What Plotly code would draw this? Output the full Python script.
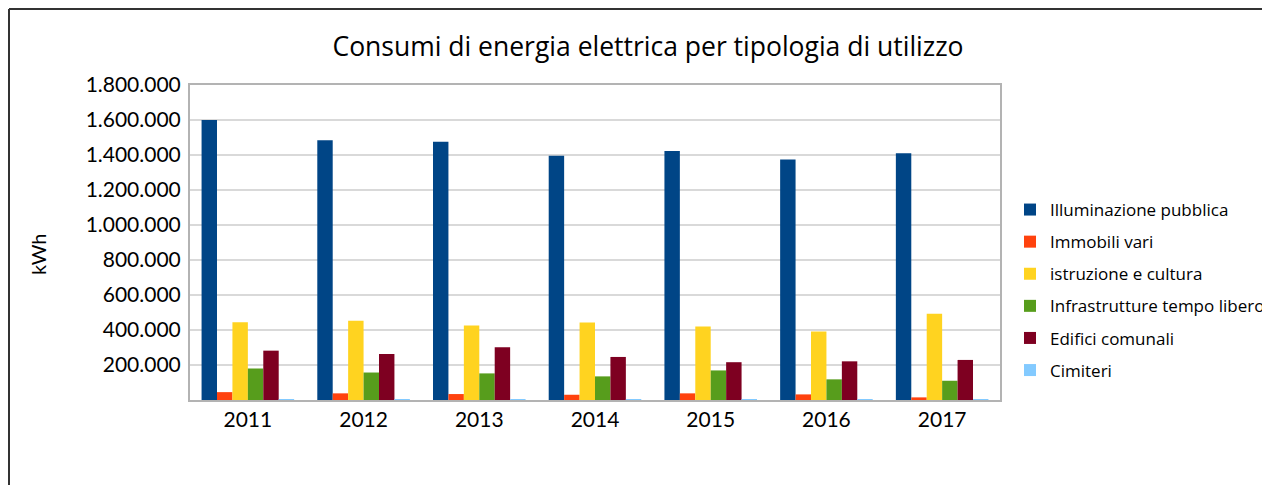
import plotly.graph_objects as go

years = ["2011", "2012", "2013", "2014", "2015", "2016", "2017"]
illuminazione = [1600000, 1484000, 1476000, 1396000, 1423000, 1375000, 1410000]
immobili = [45000, 38000, 34000, 30000, 38000, 32000, 15000]
istruzione = [445000, 453000, 426000, 443000, 420000, 392000, 493000]
infrastrutture = [180000, 157000, 152000, 135000, 169000, 118000, 110000]
edifici = [282000, 263000, 301000, 246000, 216000, 221000, 229000]
cimiteri = [5000, 5000, 5000, 5000, 1000, 1000, 5000]

series_names = ["Illuminazione pubblica", "Immobili vari", "istruzione e cultura",
                "Infrastrutture tempo libero", "Edifici comunali", "Cimiteri"]
series_values = [illuminazione, immobili, istruzione, infrastrutture, edifici, cimiteri]
colors = ["#004586", "#ff420e", "#ffd320", "#579d1c", "#7e0021", "#83caff"]

tick_vals = [200000, 400000, 600000, 800000, 1000000, 1200000, 1400000, 1600000, 1800000]
tick_text = ["200.000", "400.000", "600.000", "800.000", "1.000.000",
             "1.200.000", "1.400.000", "1.600.000", "1.800.000"]

FONT = "Lato, 'Open Sans', sans-serif"
LFONT = "'Open Sans', sans-serif"

fig = go.Figure()
for name, vals, c in zip(series_names, series_values, colors):
    fig.add_trace(go.Bar(x=years, y=vals, name=name, marker_color=c,
                         marker_line_width=0, legendgroup=name))

W, H = 1270, 485
OFF = 8  # page body margin
# desired on-screen plot box
SL, ST, SR, SB = 190, 85, 1000, 400
pw, ph = SR - SL, SB - ST
L, T = SL - OFF, ST - OFF
R, B = W - L - pw, H - T - ph

def px(x):
    return (x - SL) / pw

def py(y):
    return (SB - y) / ph

fig.update_layout(
    width=W, height=H,
    margin=dict(l=L, r=R, t=T, b=B, autoexpand=False),
    paper_bgcolor="white", plot_bgcolor="white",
    barmode="group", bargap=0.2, bargroupgap=0,
    font=dict(family=FONT, color="#000000"),
    title=dict(text="Consumi di energia elettrica per tipologia di utilizzo",
               xref="paper", yref="container",
               x=px(648), xanchor="center", y=1 - (47 - OFF) / H, yanchor="middle",
               font=dict(size=26.5, family=LFONT, color="#000")),
    xaxis=dict(showline=True, linecolor="#b3b3b3", linewidth=2, mirror=True,
               tickfont=dict(size=21, family=FONT), ticks="", showgrid=False),
    yaxis=dict(range=[0, 1800000], tickvals=tick_vals, ticktext=tick_text,
               showline=True, linecolor="#b3b3b3", linewidth=2, mirror=True,
               gridcolor="#d9d9d9", gridwidth=2, zeroline=False,
               tickfont=dict(size=21, family=FONT), ticks="", ticklabelstandoff=3),
    legend=dict(x=px(1010), xanchor="left", y=py(290), yanchor="middle",
                font=dict(size=17, family=LFONT), tracegroupgap=7,
                itemwidth=30, bgcolor="rgba(0,0,0,0)"),
    showlegend=True,
    annotations=[dict(text="kWh", x=px(38), y=py(254), xref="paper", yref="paper",
                      xanchor="center", yanchor="middle",
                      showarrow=False, textangle=-90,
                      font=dict(size=20, family=FONT))],
    shapes=[
        dict(type="line", xref="paper", yref="paper", x0=px(9), x1=px(1285),
             y0=py(9), y1=py(9), line=dict(color="#333333", width=2)),
        dict(type="line", xref="paper", yref="paper", x0=px(9), x1=px(9),
             y0=py(9), y1=py(500), line=dict(color="#333333", width=2)),
    ],
)

fig.write_html("out.html")
